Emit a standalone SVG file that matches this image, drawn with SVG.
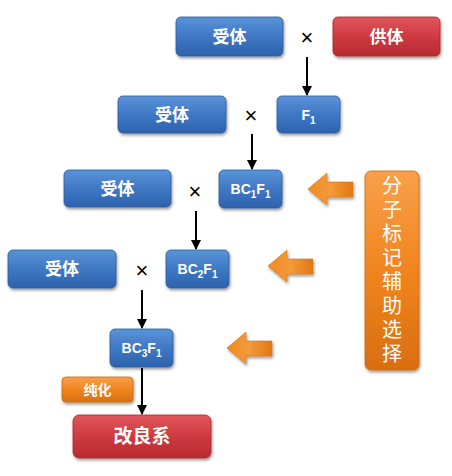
<svg xmlns="http://www.w3.org/2000/svg" width="452" height="476" viewBox="0 0 452 476">
<defs>
<linearGradient id="gBlue" x1="0" y1="0" x2="0" y2="1">
<stop offset="0" stop-color="#5b93d8"/><stop offset="0.5" stop-color="#3f78c4"/><stop offset="1" stop-color="#2d62ad"/>
</linearGradient>
<linearGradient id="gRed" x1="0" y1="0" x2="0" y2="1">
<stop offset="0" stop-color="#e0575c"/><stop offset="0.5" stop-color="#cf3a40"/><stop offset="1" stop-color="#b72a31"/>
</linearGradient>
<linearGradient id="gOrange" x1="0" y1="0" x2="0" y2="1">
<stop offset="0" stop-color="#f9a04a"/><stop offset="0.5" stop-color="#f0851f"/><stop offset="1" stop-color="#d96e10"/>
</linearGradient>
<linearGradient id="gOrangeH" x1="0" y1="0" x2="1" y2="0">
<stop offset="0" stop-color="#f08a22"/><stop offset="0.5" stop-color="#f39a3a"/><stop offset="1" stop-color="#e07812"/>
</linearGradient>
<filter id="sh" x="-20%" y="-20%" width="140%" height="150%">
<feDropShadow dx="1" dy="2" stdDeviation="1.5" flood-color="#000" flood-opacity="0.4"/>
</filter>
<marker id="ah" viewBox="0 0 10 10" refX="9" refY="5" markerWidth="5" markerHeight="5" orient="auto">
<path d="M0,0 L10,5 L0,10 z" fill="#000"/>
</marker>
</defs>
<style>
.b{fill:url(#gBlue);stroke:#2a5a9c;stroke-width:0.8;filter:url(#sh)}
.r{fill:url(#gRed);stroke:#a8262c;stroke-width:0.8;filter:url(#sh)}
.o{fill:url(#gOrange);stroke:#c96a10;stroke-width:0.8;filter:url(#sh)}
.t{font-family:"Noto Sans CJK SC","Liberation Sans",sans-serif;font-weight:bold;fill:#fff;text-anchor:middle}
.v{font-family:"Noto Sans CJK SC","Liberation Sans",sans-serif;font-weight:normal;fill:#fff;font-size:20px;writing-mode:vertical-rl;letter-spacing:4px}
.l{font-family:"Liberation Sans",sans-serif;font-weight:bold;fill:#fff;text-anchor:middle}
.x{font-family:"Liberation Sans",sans-serif;font-size:22px;fill:#000;text-anchor:middle}
.c{stroke:#000;stroke-width:2;fill:none}
.oa{fill:url(#gOrangeH);stroke:#d8741a;stroke-width:0.6;filter:url(#sh)}
</style>

<g id="connectors">
<line class="c" x1="307" y1="57" x2="307" y2="95" marker-end="url(#ah)"/>
<line class="c" x1="252" y1="134" x2="252" y2="169" marker-end="url(#ah)"/>
<line class="c" x1="196" y1="211" x2="196" y2="249" marker-end="url(#ah)"/>
<line class="c" x1="142" y1="290" x2="142" y2="328" marker-end="url(#ah)"/>
<line class="c" x1="142" y1="368" x2="142" y2="414" marker-end="url(#ah)"/>
</g>

<g id="n-recipient1"><rect class="b" x="176" y="17" width="107" height="39" rx="5"/><text class="t" x="229.5" y="43" font-size="17">受体</text></g>
<text class="x" x="307" y="45">×</text>
<g id="n-donor"><rect class="r" x="333" y="17" width="107" height="39" rx="5"/><text class="t" x="386.5" y="43" font-size="17">供体</text></g>

<g id="n-recipient2"><rect class="b" x="118" y="96" width="108" height="37" rx="5"/><text class="t" x="172" y="121" font-size="17">受体</text></g>
<text class="x" x="251" y="123">×</text>
<g id="n-F1"><rect class="b" x="277" y="96" width="63" height="37" rx="5"/><text class="l" x="308.5" y="120" font-size="14">F<tspan font-size="10" dy="4">1</tspan></text></g>

<g id="n-recipient3"><rect class="b" x="64" y="170" width="107" height="37" rx="5"/><text class="t" x="117.5" y="195" font-size="17">受体</text></g>
<text class="x" x="195" y="199">×</text>
<g id="n-BC1F1"><rect class="b" x="219" y="170" width="63" height="38" rx="5"/><text class="l" x="250.5" y="194" font-size="14">BC<tspan font-size="10" dy="4">1</tspan><tspan dy="-4">F</tspan><tspan font-size="10" dy="4">1</tspan></text></g>

<g id="n-recipient4"><rect class="b" x="8" y="250" width="108" height="38" rx="5"/><text class="t" x="62" y="275" font-size="17">受体</text></g>
<text class="x" x="142" y="278">×</text>
<g id="n-BC2F1"><rect class="b" x="166" y="250" width="63" height="38" rx="5"/><text class="l" x="197.5" y="274" font-size="14">BC<tspan font-size="10" dy="4">2</tspan><tspan dy="-4">F</tspan><tspan font-size="10" dy="4">1</tspan></text></g>

<g id="n-BC3F1"><rect class="b" x="110" y="329" width="63" height="38" rx="5"/><text class="l" x="141.5" y="353" font-size="14">BC<tspan font-size="10" dy="4">3</tspan><tspan dy="-4">F</tspan><tspan font-size="10" dy="4">1</tspan></text></g>

<g id="n-purify"><rect class="o" x="62" y="377" width="71" height="25" rx="4"/><text class="t" x="97.5" y="395" font-size="14">纯化</text></g>

<g id="n-improved"><rect class="r" x="73" y="415" width="138" height="43" rx="6"/><text class="t" x="142" y="443" font-size="19">改良系</text></g>

<g id="n-marker"><rect class="o" x="365" y="171" width="54" height="199" rx="6"/>
<text class="v" x="392" y="175">分子标记辅助选择</text>
</g>

<g id="orange-arrows">
<path class="oa" d="M308,189 L327,173 L327,182 L353,182 L353,197 L327,197 L327,205 Z"/>
<path class="oa" d="M268,266 L287,250 L287,259 L313,259 L313,274 L287,274 L287,282 Z"/>
<path class="oa" d="M227,348 L246,332 L246,341 L272,341 L272,356 L246,356 L246,364 Z"/>
</g>
</svg>
